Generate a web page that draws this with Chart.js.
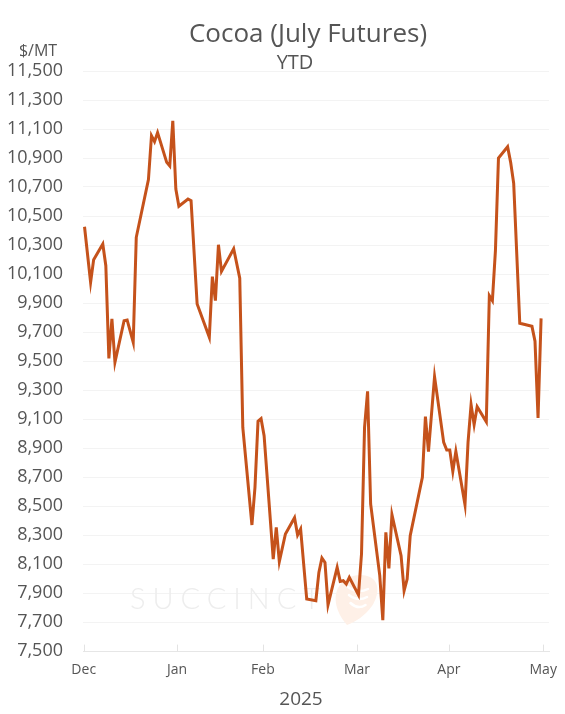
<!DOCTYPE html>
<html>
<head>
<meta charset="utf-8">
<title>Cocoa (July Futures)</title>
<script src="https://cdn.jsdelivr.net/npm/chart.js@4.4.1/dist/chart.umd.min.js"></script>
<style>
  html, body { margin: 0; padding: 0; background: #fff; }
  canvas { display: block; }
</style>
</head>
<body>
<canvas id="cocoa-chart" width="565" height="714"></canvas>
<script>
// Chart data (x = day position along the axis, Dec = 0)
const days = [0, 2, 3, 6, 7, 8, 9, 10, 13, 14, 16, 17, 21, 22, 23, 24, 27, 28, 29, 30,
  31, 34, 35, 37, 41, 42, 43, 44, 45, 49, 51, 52, 55, 56, 57, 58, 59, 62, 63, 64,
  66, 69, 70, 71, 73, 76, 77, 78, 79, 80, 83, 84, 85, 86, 87, 90, 91, 92, 93, 94,
  97, 98, 99, 100, 101, 104, 105, 106, 107, 111, 112, 113, 115, 118, 119, 120, 121, 122, 125, 126,
  127, 128, 129, 132, 133, 134, 135, 136, 139, 140, 141, 143, 147, 148, 149, 150];
const prices = [10426, 10042, 10199, 10307, 10157, 9518, 9790, 9491, 9778, 9783,
  9629, 10353, 10751, 11054, 11013, 11075, 10870, 10845, 11157, 10686,
  10567, 10617, 10606, 9893, 9663, 10082, 9916, 10302, 10118, 10274,
  10071, 9042, 8369, 8629, 9084, 9102, 8985, 8134, 8353, 8116,
  8307, 8419, 8300, 8341, 7858, 7847, 8042, 8141, 8111, 7818,
  8077, 7980, 7985, 7962, 8008, 7887, 8169, 9043, 9291, 8514,
  8020, 7712, 8318, 8070, 8440, 8157, 7916, 7996, 8295, 8698,
  9116, 8875, 9392, 8939, 8886, 8886, 8739, 8877, 8509, 8939,
  9199, 9061, 9185, 9081, 9951, 9916, 10261, 10900, 10978, 10870,
  10725, 9760, 9739, 9636, 9107, 9794];

// Month tick labels and where they sit on the day axis
const monthLabels = ["Dec", "Jan", "Feb", "Mar", "Apr", "May"];
const monthTickDays = [-0.26, 30.4, 58.6, 89.5, 119.7, 150.7];

const yMin = 7500;
const yMax = 11500;
const yStep = 200;

const textColor = "#555555";
const lineColor = "#c5521b";

// Titles, axis unit, year label, watermark and small month tick marks
const decorations = {
  id: "decorations",
  beforeDatasetsDraw(chart) {
    const ctx = chart.ctx;
    ctx.save();

    // faint "SUCCINCT" watermark
    ctx.font = "300 29px Lato";
    ctx.fillStyle = "#ededed";
    ctx.textBaseline = "alphabetic";
    ctx.textAlign = "left";
    const word = "SUCCINCT";
    const plain = ctx.measureText(word).width;
    ctx.letterSpacing = ((190 - plain) / 7).toFixed(2) + "px";
    ctx.fillText(word, 130, 609);
    ctx.letterSpacing = "0px";

    // pale pick-shaped logo
    ctx.fillStyle = "#fef0e7";
    ctx.beginPath();
    ctx.moveTo(347, 625);
    ctx.bezierCurveTo(338, 615, 332, 600, 338, 588);
    ctx.bezierCurveTo(344, 576, 360, 572, 370, 577);
    ctx.bezierCurveTo(380, 582, 379, 595, 372, 606);
    ctx.bezierCurveTo(365, 616, 355, 622, 347, 625);
    ctx.closePath();
    ctx.fill();
    ctx.strokeStyle = "#ffffff";
    ctx.lineWidth = 2.5;
    ctx.lineCap = "round";
    [[590, 14], [598, 12], [606, 9]].forEach(([y, r]) => {
      ctx.beginPath();
      ctx.moveTo(358 - r / 2 - 3, y - 3);
      ctx.quadraticCurveTo(358, y + 4, 358 + r / 2 + 3, y - 1);
      ctx.stroke();
    });

    // short month tick marks pointing up from the axis
    const xScale = chart.scales.x;
    const base = chart.chartArea.bottom;
    ctx.strokeStyle = "#e3e3e3";
    ctx.lineWidth = 1;
    monthTickDays.forEach((d) => {
      const px = Math.round(xScale.getPixelForValue(d)) + 0.5;
      ctx.beginPath();
      ctx.moveTo(px, base);
      ctx.lineTo(px, base - 6);
      ctx.stroke();
    });
    ctx.restore();
  },
  afterDraw(chart) {
    const ctx = chart.ctx;
    ctx.save();
    ctx.fillStyle = textColor;
    ctx.textAlign = "center";
    ctx.textBaseline = "alphabetic";

    ctx.font = "26px 'Open Sans'";
    ctx.fillText("Cocoa (July Futures)", 308, 42);

    ctx.font = "20px 'Open Sans'";
    ctx.fillText("YTD", 295, 69);

    ctx.font = "16px 'Open Sans'";
    ctx.fillText("$/MT", 38, 56);

    ctx.font = "19px 'Open Sans'";
    ctx.fillText("2025", 301, 705);
    ctx.restore();
  },
};

const ctx = document.getElementById("cocoa-chart").getContext("2d");

new Chart(ctx, {
  type: "line",
  data: {
    datasets: [
      {
        label: "Cocoa (July Futures)",
        data: days.map((d, i) => ({ x: d, y: prices[i] })),
        borderColor: lineColor,
        borderWidth: 3,
        pointRadius: 0,
        tension: 0,
        fill: false,
      },
    ],
  },
  options: {
    responsive: false,
    animation: false,
    layout: {
      padding: { top: 71, right: 16, bottom: 0, left: 0 },
    },
    plugins: {
      legend: { display: false },
      tooltip: { enabled: false },
    },
    scales: {
      x: {
        type: "linear",
        min: -0.5,
        max: 152.6,
        afterBuildTicks: (scale) => {
          scale.ticks = monthTickDays.map((v) => ({ value: v }));
        },
        afterFit: (scale) => {
          scale.height = 63;
        },
        // invisible tick marks push the labels down without widening the side padding
        grid: { drawOnChartArea: false, drawTicks: true, tickLength: 11, tickColor: "rgba(0,0,0,0)" },
        border: { color: "#e6e6e6" },
        ticks: {
          autoSkip: false,
          maxRotation: 0,
          padding: 0,
          color: textColor,
          font: { family: "'Open Sans'", size: 14 },
          callback: (value, index) => monthLabels[index],
        },
      },
      y: {
        min: yMin,
        max: yMax,
        afterFit: (scale) => {
          scale.width = 83;
        },
        grid: { color: "#f3f3f3", drawTicks: false },
        border: { display: false },
        ticks: {
          stepSize: yStep,
          padding: 20,
          color: textColor,
          font: { family: "'Open Sans'", size: 18 },
          callback: (value) => value.toLocaleString("en-US"),
        },
      },
    },
  },
  plugins: [decorations],
});
</script>
</body>
</html>
